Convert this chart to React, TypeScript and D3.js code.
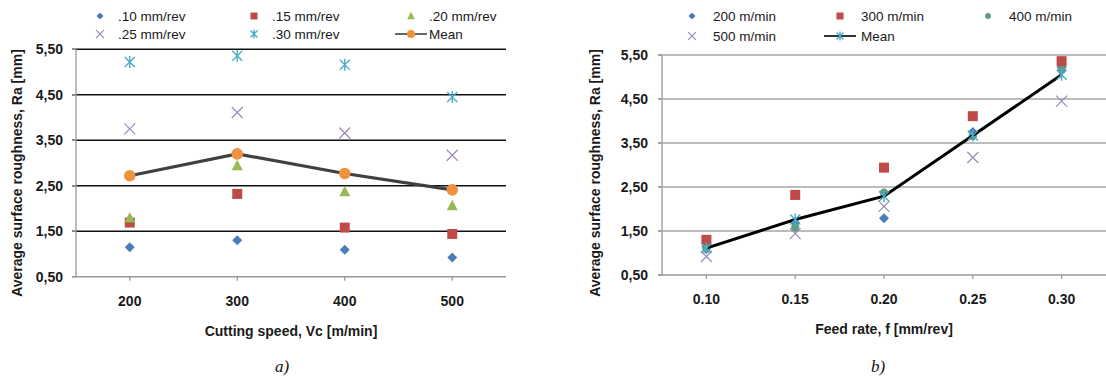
import React, { useEffect, useRef } from "react";
import * as d3 from "d3";

// ---------- Data: chart a) ----------
const speedCategories = ["200", "300", "400", "500"];
const feed010 = [1.15, 1.3, 1.09, 0.92];
const feed015 = [1.69, 2.32, 1.58, 1.44];
const feed020 = [1.79, 2.94, 2.37, 2.06];
const feed025 = [3.75, 4.11, 3.66, 3.17];
const feed030 = [5.22, 5.36, 5.16, 4.45];
const meanBySpeed = [2.72, 3.2, 2.77, 2.41];

// ---------- Data: chart b) ----------
const feedCategories = ["0.10", "0.15", "0.20", "0.25", "0.30"];
const speed200 = [1.15, 1.69, 1.79, 3.75, 5.22];
const speed300 = [1.3, 2.32, 2.94, 4.11, 5.36];
const speed400 = [1.09, 1.58, 2.37, 3.66, 5.16];
const speed500 = [0.92, 1.44, 2.06, 3.17, 4.45];
const meanByFeed = [1.11, 1.76, 2.29, 3.67, 5.05];

const yTicks = [0.5, 1.5, 2.5, 3.5, 4.5, 5.5];
const fmt = (v: number) => v.toFixed(2).replace(".", ",");

type Shape = "diamond" | "square" | "triangle" | "x" | "star" | "circle";

function drawMarker(g: any, shape: Shape, x: number, y: number, color: string, size = 1) {
  const s = size;
  if (shape === "diamond") {
    g.append("path")
      .attr("d", `M${x},${y - 5 * s}L${x + 5 * s},${y}L${x},${y + 5 * s}L${x - 5 * s},${y}Z`)
      .attr("fill", color);
  } else if (shape === "square") {
    g.append("rect").attr("x", x - 5 * s).attr("y", y - 5 * s).attr("width", 10 * s).attr("height", 10 * s).attr("fill", color);
  } else if (shape === "triangle") {
    g.append("path")
      .attr("d", `M${x},${y - 6 * s}L${x + 5.5 * s},${y + 4.5 * s}L${x - 5.5 * s},${y + 4.5 * s}Z`)
      .attr("fill", color);
  } else if (shape === "x") {
    const r = 5.5 * s;
    g.append("path")
      .attr("d", `M${x - r},${y - r}L${x + r},${y + r}M${x - r},${y + r}L${x + r},${y - r}`)
      .attr("stroke", color).attr("stroke-width", 1.2).attr("fill", "none");
  } else if (shape === "star") {
    const r = 5 * s;
    g.append("path")
      .attr("d", `M${x - r},${y - r}L${x + r},${y + r}M${x - r},${y + r}L${x + r},${y - r}M${x},${y - r - 1}L${x},${y + r + 1}`)
      .attr("stroke", color).attr("stroke-width", 1.4).attr("fill", "none");
  } else if (shape === "circle") {
    g.append("circle").attr("cx", x).attr("cy", y).attr("r", 5.8 * s).attr("fill", color);
  }
}

interface SeriesDef { name: string; values: number[]; shape: Shape; color: string; size?: number; }

interface ChartCfg {
  left: number; right: number; top: number; bottom: number;
  categories: string[];
  series: SeriesDef[];
  mean: number[];
  meanShape: Shape; meanColor: string; meanLine: string; meanWidth: number;
  gridColor: string; gridWidth: number;
  xTitle: string; yTitleX: number; tickLabelRight: number;
  legendCols: number[]; legendTextDx: number; legendRows: number[];
  caption: string; captionX: number;
}

function drawChart(svg: any, c: ChartCfg) {
  const x = d3.scaleBand().domain(c.categories).range([c.left, c.right]);
  const y = d3.scaleLinear().domain([0.5, 5.5]).range([c.bottom, c.top]);
  const g = svg.append("g");

  yTicks.slice(1).forEach((t) => {
    g.append("line").attr("x1", c.left - 4).attr("x2", c.right).attr("y1", y(t)).attr("y2", y(t))
      .attr("stroke", c.gridColor).attr("stroke-width", c.gridWidth);
  });
  g.append("line").attr("x1", c.left).attr("x2", c.left).attr("y1", c.top).attr("y2", c.bottom)
    .attr("stroke", "#9a9a9a").attr("stroke-width", 1.3);
  g.append("line").attr("x1", c.left - 4).attr("x2", c.right).attr("y1", c.bottom).attr("y2", c.bottom)
    .attr("stroke", "#9a9a9a").attr("stroke-width", 1.5);
  yTicks.forEach((t) => {
    g.append("line").attr("x1", c.left - 4).attr("x2", c.left).attr("y1", y(t)).attr("y2", y(t))
      .attr("stroke", "#9a9a9a").attr("stroke-width", 1.3);
    g.append("text").attr("x", c.tickLabelRight).attr("y", y(t)).attr("dy", "0.35em")
      .attr("text-anchor", "end").attr("font-weight", "bold").attr("font-size", 14)
      .attr("font-family", "Liberation Sans, Arial, sans-serif").attr("fill", "#1a1a1a").text(fmt(t));
  });
  c.categories.forEach((cat) => {
    const cx = (x(cat) as number) + x.bandwidth() / 2;
    g.append("line").attr("x1", cx).attr("x2", cx).attr("y1", c.bottom).attr("y2", c.bottom + 4)
      .attr("stroke", "#9a9a9a").attr("stroke-width", 1.3);
    g.append("text").attr("x", cx).attr("y", c.bottom + 29).attr("text-anchor", "middle")
      .attr("font-weight", "bold").attr("font-size", 14)
      .attr("font-family", "Liberation Sans, Arial, sans-serif").attr("fill", "#1a1a1a").text(cat);
  });

  const midX = (c.left + c.right) / 2;
  g.append("text").attr("x", midX).attr("y", c.bottom + 59).attr("text-anchor", "middle")
    .attr("font-weight", "bold").attr("font-size", 14)
    .attr("font-family", "Liberation Sans, Arial, sans-serif").attr("fill", "#1a1a1a").text(c.xTitle);
  g.append("text").attr("transform", `translate(${c.yTitleX},${173}) rotate(-90)`)
    .attr("text-anchor", "middle").attr("dy", "0.35em")
    .attr("font-weight", "bold").attr("font-size", 14)
    .attr("font-family", "Liberation Sans, Arial, sans-serif").attr("fill", "#1a1a1a")
    .text("Average surface roughness, Ra [mm]");

  const cx = (i: number) => (x(c.categories[i]) as number) + x.bandwidth() / 2;

  c.series.forEach((s) => {
    s.values.forEach((v, i) => drawMarker(g, s.shape, cx(i), y(v), s.color, s.size ?? 1));
  });
  const line = d3.line<number>().x((_, i) => cx(i)).y((v) => y(v));
  g.append("path").attr("d", line(c.mean)).attr("fill", "none")
    .attr("stroke", c.meanLine).attr("stroke-width", c.meanWidth);
  c.mean.forEach((v, i) => drawMarker(g, c.meanShape, cx(i), y(v), c.meanColor));

  const items = [...c.series.map((s) => ({ name: s.name, shape: s.shape, color: s.color, line: false, size: s.size ?? 1 })),
    { name: "Mean", shape: c.meanShape, color: c.meanColor, line: true, size: 1 }];
  items.forEach((it, i) => {
    const col = i % 3;
    const row = Math.floor(i / 3);
    const lx = c.legendCols[col];
    const ly = c.legendRows[row];
    if (it.line) {
      g.append("line").attr("x1", lx - 16).attr("x2", lx + 16).attr("y1", ly).attr("y2", ly)
        .attr("stroke", c.meanLine).attr("stroke-width", 1.6);
    }
    drawMarker(g, it.shape as Shape, lx, ly, it.color, 0.7 * it.size);
    g.append("text").attr("x", lx + c.legendTextDx).attr("y", ly).attr("dy", "0.35em")
      .attr("font-size", 13.5).attr("font-family", "Liberation Sans, Arial, sans-serif")
      .attr("fill", "#1a1a1a").text(it.name);
  });

  g.append("text").attr("x", c.captionX).attr("y", 372).attr("text-anchor", "middle")
    .attr("font-style", "italic").attr("font-size", 17)
    .attr("font-family", "Liberation Serif, Times New Roman, serif").attr("fill", "#111").text(c.caption);
}

export default function App() {
  const ref = useRef<SVGSVGElement>(null);
  useEffect(() => {
    const svg = d3.select(ref.current);
    svg.selectAll("*").remove();
    svg.append("rect").attr("width", 1106).attr("height", 379).attr("fill", "#fff");

    drawChart(svg, {
      left: 76, right: 506, top: 49.3, bottom: 276.7,
      categories: speedCategories,
      series: [
        { name: ".10 mm/rev", values: feed010, shape: "diamond", color: "#4a7ebb" },
        { name: ".15 mm/rev", values: feed015, shape: "square", color: "#be4b48" },
        { name: ".20 mm/rev", values: feed020, shape: "triangle", color: "#98b954" },
        { name: ".25 mm/rev", values: feed025, shape: "x", color: "#9b88b8" },
        { name: ".30 mm/rev", values: feed030, shape: "star", color: "#4bacc6" },
      ],
      mean: meanBySpeed, meanShape: "circle", meanColor: "#f0913f", meanLine: "#404040", meanWidth: 3.2,
      gridColor: "#111", gridWidth: 1.5,
      xTitle: "Cutting speed, Vc [m/min]", yTitleX: 17, tickLabelRight: 63,
      legendCols: [100, 254, 411], legendTextDx: 18, legendRows: [16, 34],
      caption: "a)", captionX: 282,
    });

    drawChart(svg, {
      left: 662, right: 1106, top: 55, bottom: 275,
      categories: feedCategories,
      series: [
        { name: "200 m/min", values: speed200, shape: "diamond", color: "#4a7ebb" },
        { name: "300 m/min", values: speed300, shape: "square", color: "#be4b48" },
        { name: "400 m/min", values: speed400, shape: "circle", color: "#5f9c84", size: 0.72 },
        { name: "500 m/min", values: speed500, shape: "x", color: "#9b88b8" },
      ],
      mean: meanByFeed, meanShape: "star", meanColor: "#4bacc6", meanLine: "#000", meanWidth: 3,
      gridColor: "#a6a6a6", gridWidth: 1.5,
      xTitle: "Feed rate, f [mm/rev]", yTitleX: 595, tickLabelRight: 648,
      legendCols: [692, 840, 988], legendTextDx: 21, legendRows: [16, 36],
      caption: "b)", captionX: 878,
    });
  }, []);
  return (
    <svg ref={ref} width={1106} height={379} style={{ position: "absolute", left: 0, top: 0 }} />
  );
}
